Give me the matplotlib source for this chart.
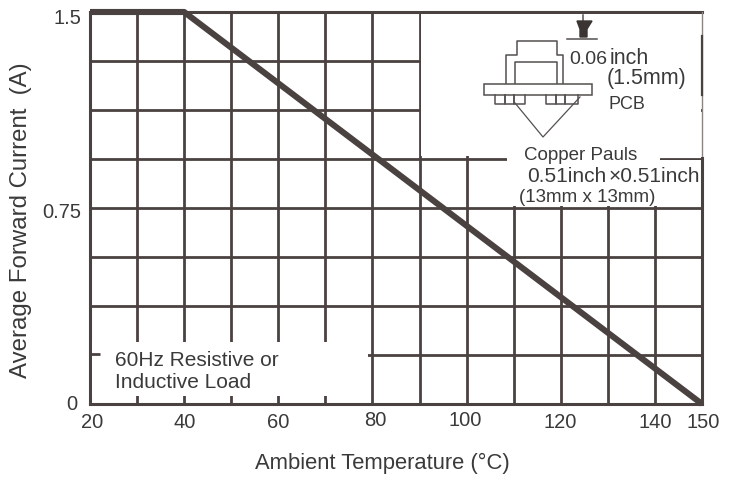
import matplotlib
matplotlib.use("Agg")
import matplotlib.pyplot as plt
from matplotlib.patches import Rectangle
from matplotlib.transforms import ScaledTranslation

plt.rcParams['font.family'] = ['Liberation Sans', 'DejaVu Sans']

# derating curve
temp = [20, 40, 150]
current = [1.5, 1.5, 0]

grid_x = [30, 40, 50, 60, 70, 80, 90, 100, 110, 120, 130, 140]
grid_y = [0.1875, 0.375, 0.5625, 0.75, 0.9375, 1.125, 1.3125]
x_ticks = [20, 40, 60, 80, 100, 120, 140, 150]
x_labels = ['20', '40', '60', '80', '100', '120', '140', '150']
y_ticks = [0, 0.75, 1.5]
y_labels = ['0', '0.75', '1.5']

dark = '#4a4240'
text_col = '#3a3a3a'
grid_lw = 2.0

W, H = 730, 479
fig = plt.figure(figsize=(W / 100, H / 100), dpi=100)
ax = fig.add_axes([90 / W, 1 - 404 / H, 612 / W, 392 / H])
ax.set_xlim(20, 150)
ax.set_ylim(0, 1.5)

for x in grid_x:
    ax.axvline(x, color=dark, lw=grid_lw, zorder=1)
for y in grid_y:
    ax.axhline(y, color=dark, lw=grid_lw, zorder=1)

ax.plot(temp, current, color=dark, lw=4.4, zorder=5, clip_on=False, solid_capstyle='butt')

# overlay in pixel coords for the blanked areas and the sketch
ov = fig.add_axes([0, 0, 1, 1], facecolor='none')
ov.set_xlim(0, W)
ov.set_ylim(H, 0)
ov.axis('off')
ax.set_zorder(1)
ov.set_zorder(2)


def blank(x0, y0, x1, y1):
    ov.add_patch(Rectangle((x0, y0), x1 - x0, y1 - y0, fc='white', ec='none', zorder=1))


blank(92, 342, 368, 396)     # load note
blank(421, 14, 701, 156)     # sketch area
blank(507, 150, 660, 206)    # copper pad text
blank(660, 160, 701, 206)
ov.plot([91, 100], [354, 354], color=dark, lw=grid_lw, zorder=2, solid_capstyle='butt')

for s in ax.spines.values():
    s.set_color(dark)
    s.set_linewidth(2.2)
ax.spines['right'].set_visible(False)
ov.plot([702, 702], [12, 158], color='#8a8482', lw=1.0, zorder=2)
ov.plot([702, 702], [36, 95], color=dark, lw=1.6, zorder=2)
ov.plot([702, 702], [158, 404], color=dark, lw=2.2, zorder=2)

ax.set_xticks(x_ticks, x_labels, fontsize=14.5, color=text_col)
ax.set_yticks(y_ticks, y_labels, fontsize=14.5, color=text_col)
ax.tick_params(length=0, pad=6)
ax.tick_params(axis='y', pad=6)
ax.set_xlabel('Ambient Temperature (°C)', fontsize=15.8, color=text_col)
ax.set_ylabel('Average Forward Current  (A)', fontsize=17.3, color=text_col, va='center')
ax.xaxis.set_label_coords(0.478, -0.125)
ax.yaxis.set_label_coords(-0.1125, 0.47)

# small offsets of the printed labels, in pixels
x_nudge = [(2, -1), (1, -1), (0, -1), (3, 1), (-1, 1), (-1, -1), (0, -1), (1, -1)]
y_nudge = [(-4, 2), (0, -3), (0, -4)]
for lab, (dx, dy) in zip(ax.get_xticklabels(), x_nudge):
    lab.set_transform(lab.get_transform() + ScaledTranslation(dx / 100, dy / 100, fig.dpi_scale_trans))
for lab, (dx, dy) in zip(ax.get_yticklabels(), y_nudge):
    lab.set_transform(lab.get_transform() + ScaledTranslation(dx / 100, dy / 100, fig.dpi_scale_trans))

# sketch of the board and diode
sk = dict(color='#555050', lw=1.1, zorder=4)
ov.plot([506, 506, 517, 517, 557, 557, 563, 563], [84, 55, 55, 41, 41, 55, 55, 84], **sk)
ov.plot([515, 515, 557, 557], [84, 62, 62, 84], **sk)
ov.add_patch(Rectangle((484, 84), 108, 11, fc='white', ec='#555050', lw=1.1, zorder=4))
for a, b in [(495, 505), (505, 514), (514, 525), (546, 556), (556, 565), (565, 578)]:
    ov.plot([a, a, b, b], [95, 104, 104, 95], **sk)
ov.plot([515, 543, 580], [103, 137, 97], color='#555050', lw=0.9, zorder=4)
ov.plot([567, 597], [39, 39], **sk)
ov.plot([583, 583], [15, 24], **sk)
ov.fill([577, 592, 587, 587, 580, 580], [21, 21, 29, 37, 37, 29], color='#3a3533', zorder=4)

ov.text(569, 59, '0.06', fontsize=14, color=text_col, va='center', zorder=6)
ov.text(610, 58, 'inch', fontsize=15.5, color=text_col, va='center', zorder=6)
ov.text(607, 78, '(1.5mm)', fontsize=15.5, color=text_col, va='center', zorder=6)
ov.text(609, 104, 'PCB', fontsize=13, color=text_col, va='center', zorder=6)
ov.text(524, 155, 'Copper Pauls', fontsize=13.5, color=text_col, va='center', zorder=6)
ov.text(527, 177, '0.51inch', fontsize=15, color=text_col, va='center', zorder=6)
ov.text(609, 177, '×0.51inch', fontsize=15, color=text_col, va='center', zorder=6)
ov.text(519, 197, '(13mm x 13mm)', fontsize=13.5, color=text_col, va='center', zorder=6)
ov.text(115, 361, '60Hz Resistive or', fontsize=15, color=text_col, va='center', zorder=6)
ov.text(115, 382, 'Inductive Load', fontsize=15, color=text_col, va='center', zorder=6)

fig.savefig('out.png', dpi=100)
